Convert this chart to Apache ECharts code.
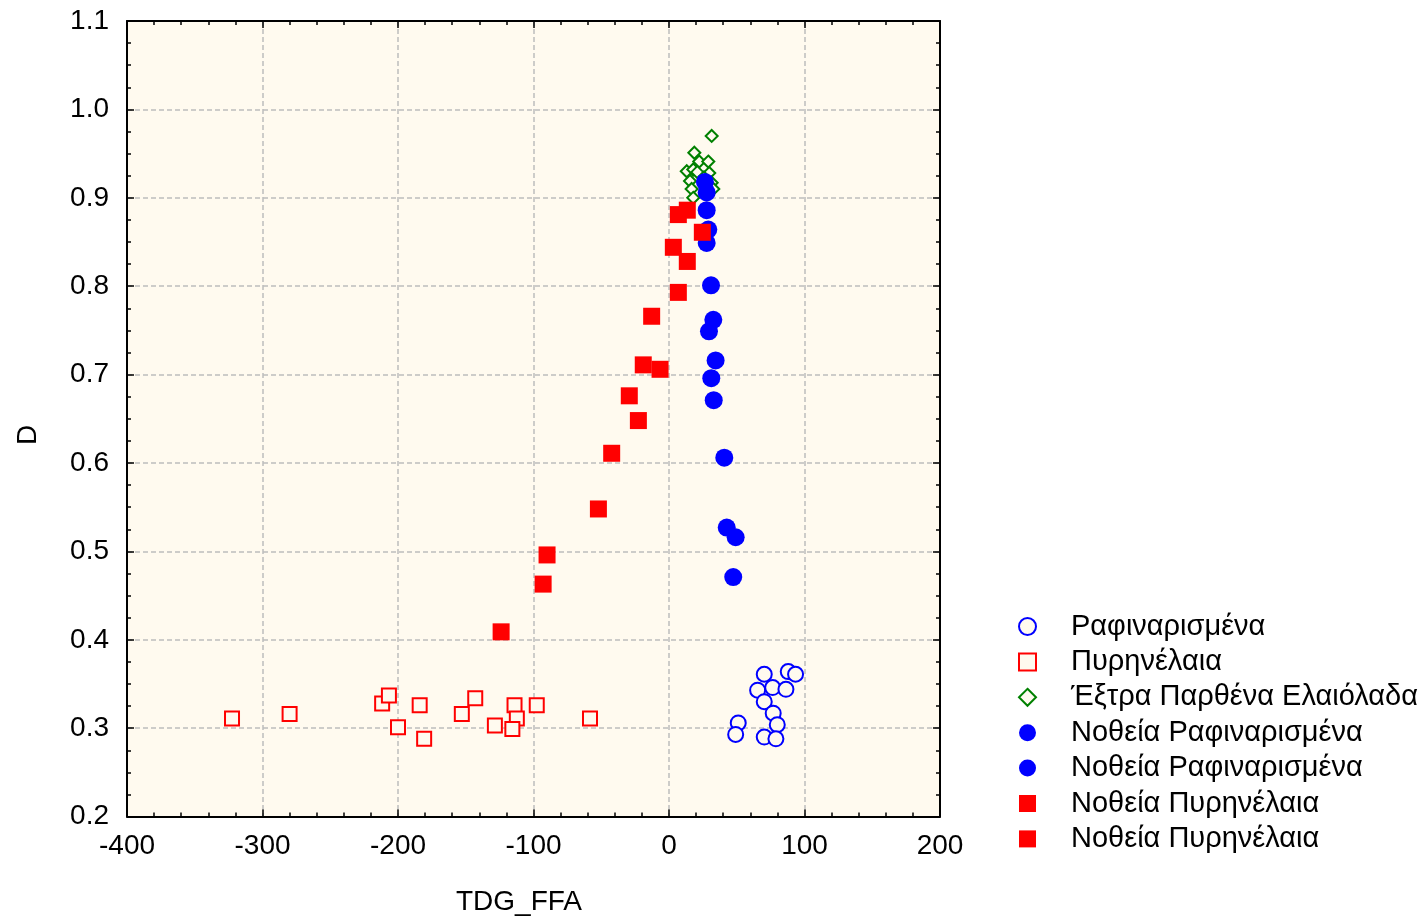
<!DOCTYPE html>
<html>
<head>
<meta charset="utf-8">
<script src="https://cdn.jsdelivr.net/npm/echarts@6/dist/echarts.min.js"></script>
<style>html,body{margin:0;padding:0;background:#fff;}#c{width:1425px;height:921px;}</style>
</head>
<body>
<div id="c"></div>
<script>
// Series data: [TDG_FFA, D]
var rafinarismena = [[70.3,0.361],[88,0.364],[93.4,0.361],[65.4,0.343],[76.5,0.346],[86.3,0.344],[70.3,0.330],[76.9,0.317],[51.1,0.306],[79.9,0.304],[49.2,0.293],[70.3,0.290],[78.9,0.288]];
var pyrinelaia = [[-322.5,0.311],[-280,0.316],[-211.7,0.328],[-206.7,0.337],[-200,0.301],[-184,0.326],[-180.7,0.288],[-152.9,0.316],[-143,0.334],[-128.5,0.303],[-114,0.326],[-112.3,0.311],[-115.6,0.299],[-97.6,0.326],[-58.3,0.311]];
var extraVirgin = [[31.5,0.970],[18.7,0.951],[22.3,0.941],[29.0,0.941],[13.1,0.930],[17.9,0.932],[20.9,0.929],[29.7,0.928],[15.5,0.919],[31.5,0.917],[16.7,0.910],[32.7,0.910],[17.9,0.900],[25.8,0.923]];
var notheiaRaf1 = [[26.5,0.918],[27.8,0.906],[27.8,0.886],[29,0.864],[27.8,0.849],[31,0.801],[32.7,0.762],[29.5,0.749]];
var notheiaRaf2 = [[34.4,0.716],[31.2,0.696],[33,0.671],[40.8,0.606],[42.6,0.527],[49.2,0.516],[47.4,0.471]];
var notheiaPyr1 = [[13.5,0.886],[6.9,0.881],[24.6,0.861],[3.2,0.844],[13.5,0.828],[6.9,0.793],[-12.8,0.766],[-19,0.711],[-6.6,0.706]];
var notheiaPyr2 = [[-29.3,0.676],[-22.6,0.648],[-42.3,0.611],[-52.1,0.548],[-90,0.496],[-92.9,0.463],[-123.9,0.409]];
var seriesNames = ['Ραφιναρισμένα','Πυρηνέλαια','Έξτρα Παρθένα Ελαιόλαδα','Νοθεία Ραφιναρισμένα','Νοθεία Ραφιναρισμένα ','Νοθεία Πυρηνέλαια','Νοθεία Πυρηνέλαια '];
var xName = 'TDG_FFA', yName = 'D';

var FONT = 'Liberation Sans, Arial, sans-serif';
var FS = 28;
var BG = '#FFFAEF';
var chart = echarts.init(document.getElementById('c'), null, {renderer:'canvas'});
var gridLine = {show:true, lineStyle:{color:'#BDBDBD', width:1.5, type:[5,3]}};
function mainX(){return {type:'value', min:-400, max:200, interval:100, position:'bottom',
  axisLine:{show:true, onZero:false, lineStyle:{color:'#000', width:2}},
  axisTick:{show:true, inside:true, length:7, lineStyle:{color:'#000', width:1.5}},
  minorTick:{show:true, splitNumber:5, length:4, lineStyle:{color:'#000', width:1.5}},
  axisLabel:{show:true, fontSize:FS, color:'#000', fontFamily:FONT, margin:16},
  splitLine:gridLine};}
function mainY(){return {type:'value', min:0.2, max:1.1, interval:0.1, position:'left',
  axisLine:{show:true, onZero:false, lineStyle:{color:'#000', width:2}},
  axisTick:{show:true, inside:true, length:7, lineStyle:{color:'#000', width:1.5}},
  minorTick:{show:true, splitNumber:4, length:4, lineStyle:{color:'#000', width:1.5}},
  axisLabel:{show:true, fontSize:FS, color:'#000', fontFamily:FONT, margin:18, formatter:function(v){return v.toFixed(1);}},
  splitLine:gridLine};}
var xTop = mainX(); xTop.position='top'; xTop.axisLabel={show:false}; xTop.splitLine={show:false};
var yRight = mainY(); yRight.position='right'; yRight.axisLabel={show:false}; yRight.splitLine={show:false};

function hollow(name, data, symbol, size, color){
  return {name:name, type:'scatter', data:data, symbol:symbol, symbolSize:size,
    itemStyle:{color:BG, borderColor:color, borderWidth:2, opacity:1}, emphasis:{disabled:true}};
}
function filled(name, data, symbol, size, color){
  return {name:name, type:'scatter', data:data, symbol:symbol, symbolSize:size,
    itemStyle:{color:color, opacity:1}, emphasis:{disabled:true}};
}

chart.setOption({
  animation:false,
  backgroundColor:'#fff',
  grid:{left:127, top:21, right:485, bottom:104.4, show:true, backgroundColor:BG, borderWidth:0},
  xAxis:[mainX(), xTop],
  yAxis:[mainY(), yRight],
  legend:{
    orient:'vertical', left:1013, top:607, itemWidth:17, itemHeight:17, itemGap:6.4,
    textStyle:{fontSize:29, color:'#000', fontFamily:FONT, lineHeight:28, padding:[0,0,0,30]},
    data:seriesNames, selectedMode:false
  },
  graphic:[
    {type:'text', x:519, y:902, style:{text:xName, fontSize:FS, fontFamily:FONT, fill:'#000', align:'center', verticalAlign:'middle'}},
    {type:'text', rotation:Math.PI/2, x:28, y:435, style:{text:yName, fontSize:FS, fontFamily:FONT, fill:'#000', align:'center', verticalAlign:'middle'}}
  ],
  series:[
    hollow(seriesNames[0], rafinarismena, 'circle', 15, '#0000FF'),
    hollow(seriesNames[1], pyrinelaia, 'rect', 14, '#FF0000'),
    hollow(seriesNames[2], extraVirgin, 'diamond', 12, '#008000'),
    filled(seriesNames[3], notheiaRaf1, 'circle', 18, '#0000FF'),
    filled(seriesNames[4], notheiaRaf2, 'circle', 18, '#0000FF'),
    filled(seriesNames[5], notheiaPyr1, 'rect', 17, '#FF0000'),
    filled(seriesNames[6], notheiaPyr2, 'rect', 17, '#FF0000')
  ]
});
</script>
</body>
</html>
